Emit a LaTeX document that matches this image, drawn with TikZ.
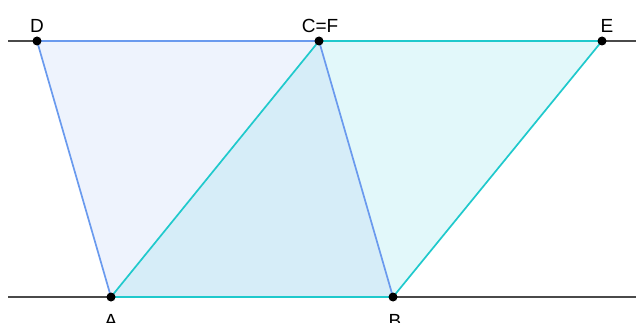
\documentclass[tikz,border=0pt]{standalone}
\usepackage{fontspec}
\setmainfont{Liberation Sans}
\definecolor{bedge}{HTML}{6A9AEE}
\definecolor{bfill}{HTML}{EEF3FD}
\definecolor{cedge}{HTML}{1FC9CC}
\definecolor{cfill}{HTML}{E2F8FA}
\definecolor{ofill}{HTML}{D6EDF8}
\definecolor{lgray}{HTML}{4A4A4A}
\begin{document}
\begin{tikzpicture}[x=1pt,y=-1pt,
  pt/.style={circle,fill=black,inner sep=0pt,minimum size=9pt},
  lbl/.style={font=\fontsize{19}{19}\selectfont,inner sep=0pt,anchor=base},
  baseline line/.style={lgray,line width=2.3pt}]
\useasboundingbox (0,0) rectangle (636,323);
\coordinate (D) at (37,41);
\coordinate (C) at (319,41);
\coordinate (E) at (602,41);
\coordinate (A) at (111,297);
\coordinate (B) at (393,297);
\coordinate (L1) at (8,41);
\coordinate (R1) at (636,41);
\coordinate (L2) at (8,297);
\coordinate (R2) at (636,297);
% fills
\fill[bfill] (A) -- (B) -- (C) -- (D) -- cycle;
\fill[cfill] (A) -- (B) -- (E) -- (C) -- cycle;
\fill[ofill] (A) -- (B) -- (C) -- cycle;
% lines
\draw[baseline line] (L1) -- (R1);
\draw[baseline line] (L2) -- (R2);
\draw[cedge,line width=2.2pt] (C) -- (E);
\draw[bedge,line width=2.2pt] (D) -- (C);
\draw[cedge,line width=2.2pt] (A) -- (B);
\draw[bedge,line width=1.7pt] (D) -- (A);
\draw[bedge,line width=1.7pt] (C) -- (B);
\draw[cedge,line width=1.7pt] (A) -- (C);
\draw[cedge,line width=1.7pt] (B) -- (E);
% points
\node[pt] (pD) at (D) {};
\node[pt] (pC) at (C) {};
\node[pt] (pE) at (E) {};
\node[pt] (pA) at (A) {};
\node[pt] (pB) at (B) {};
% labels
\node[lbl] (tD) at (37,33) {D};
\node[lbl] (tC) at (320,33) {C=F};
\node[lbl] (tE) at (607,33) {E};
\node[lbl] (tA) at (111,327) {A};
\node[lbl] (tB) at (395,327) {B};
\end{tikzpicture}
\end{document}
